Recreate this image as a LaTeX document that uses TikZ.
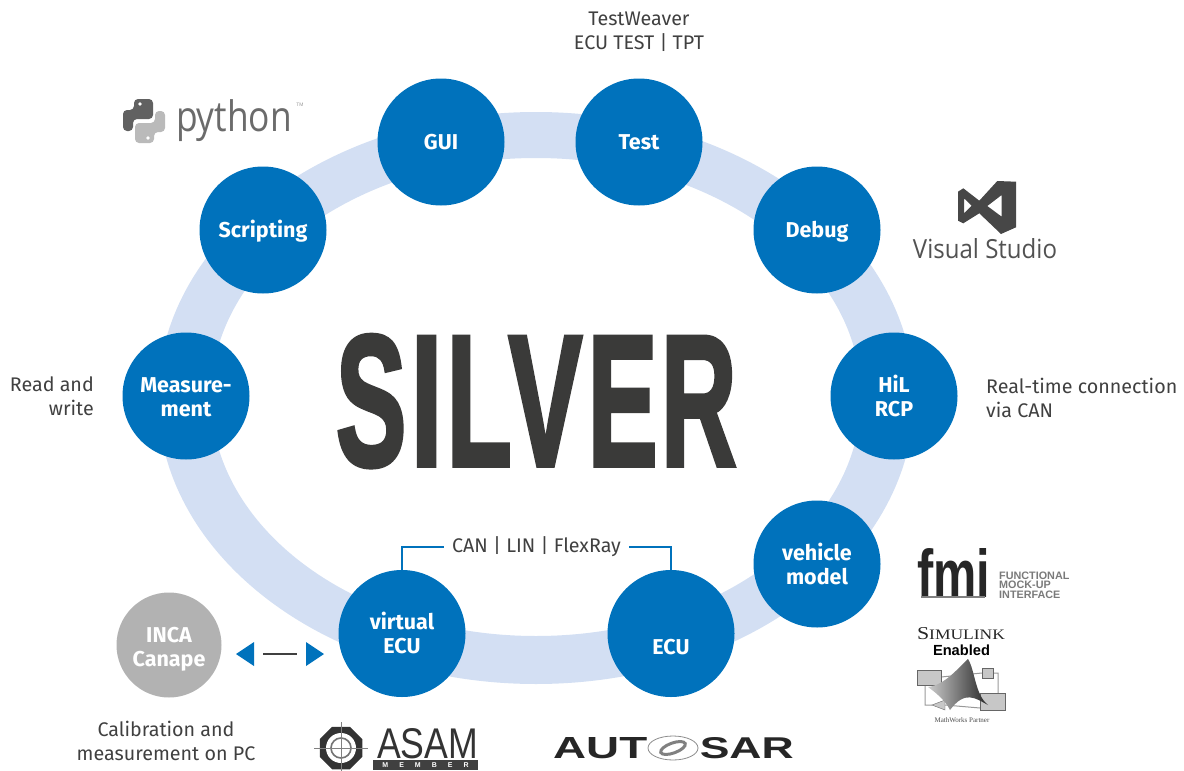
\documentclass[tikz,border=0pt]{standalone}
\usepackage{graphicx}
\usepackage{fontspec}
\usetikzlibrary{shapes.geometric}
\setmainfont{Fira Sans}
\newfontfamily\silverf[UprightFont=* Bold,FakeBold=2.4]{Liberation Sans}
\newfontfamily\arialf{Liberation Sans}
\newfontfamily\timesf{Liberation Serif}
\newfontfamily\openf{Open Sans}
\definecolor{hubblue}{HTML}{0072BC}
\definecolor{ringblue}{HTML}{D3DFF3}
\definecolor{incagray}{HTML}{B2B2B2}
\definecolor{txt}{HTML}{404040}
\definecolor{silvergray}{HTML}{3A3A39}
\newcommand{\fsz}[1]{\fontsize{#1}{#1}\selectfont}
\newcommand{\ltr}[3]{\scalebox{#1}[1.87]{#2}\hspace{#3pt}}
\tikzset{
  x=1pt,y=-1pt,
  hub/.style={circle,fill=hubblue,minimum size=127pt,inner sep=0pt,text=white,align=center,
    font=\fontsize{21.5}{24}\selectfont\bfseries},
  hubone/.style={hub,text height=15pt,text depth=0pt},
  hubtwo/.style={hub,text height=40pt,text depth=0pt},
  plain/.style={text=txt,align=center,inner sep=0pt,font=\fontsize{19.7}{24}\selectfont},
  bus/.style={draw=hubblue,line width=1.2pt},
  tri/.style={fill=hubblue},
}
\begin{document}
\begin{tikzpicture}
\useasboundingbox (0,0) rectangle (1184,771);
% ring
\fill[ringblue,even odd rule] (536,398) ellipse [x radius=378pt,y radius=286pt]
  (536,397) ellipse [x radius=325pt,y radius=239pt];
% title
\node[inner sep=0pt,anchor=base west,text=silvergray] (title) at (335.6,465.5)
  {\fontsize{100}{100}\silverf\ltr{1.06}{S}{4.1}\ltr{1.15}{I}{4}\ltr{1.07}{L}{-3.5}\ltr{1.11}{V}{5.2}\ltr{1.05}{E}{3.1}\ltr{1.05}{R}{0}};
% hubs
\node[hubone] (gui) at (441,142) {GUI};
\node[hubone] (test) at (639,142) {Test};
\node[hubone] (debug) at (817,230) {Debug};
\node[hubone] (script) at (263,230) {Scripting};
\node[hubtwo] (meas) at (186,396) {Measure-\\ment};
\node[hubtwo] (hil) at (894,396) {HiL\\RCP};
\node[hubtwo] (veh) at (817,564) {vehicle\\model};
\node[hubtwo] (vecu) at (402,633.5) {virtual\\ECU};
\node[hub,text height=41pt,text depth=0pt] (ecu) at (671,633.5) {ECU};
\node[circle,fill=incagray,minimum size=105pt,inner sep=0pt,text=white,align=center,
  text height=43pt,text depth=0pt,font=\fontsize{21.5}{24}\selectfont\bfseries] (inca) at (169,645) {INCA\\Canape};
% plain labels
\node[plain] (tw) at (639,32) {TestWeaver\\ECU TEST | TPT};
\node[plain,align=right,anchor=east] (rw) at (94,396.5) {Read and\\write};
\node[plain,align=left,anchor=west] (rt) at (986,397.5) {Real-time connection\\via CAN};
\node[plain] (cal) at (166,740.5) {Calibration and\\measurement on PC};
\node[plain] (bus) at (536.5,547) {CAN | LIN | FlexRay};
% bus connectors
\draw[bus] (vecu.north) |- ([xshift=-8pt]bus.west);
\draw[bus] (ecu.north) |- ([xshift=8pt]bus.east);
% INCA link
\coordinate (la) at (263,654);
\coordinate (lb) at (297,654);
\draw[txt,line width=1.5pt] (la) -- (lb);
\fill[tri] (236,654) -- (254,642) -- (254,666) -- cycle;
\fill[tri] (324,654) -- (306,642) -- (306,666) -- cycle;
% python logo
\fill[black!62,rounded corners=4pt] (134,110)--(134,99)--(153,99)--(153,119)--(133,119)--(133,131)--(123,131)--(123,110)--cycle;
\fill[black!27,rounded corners=4pt] (154,132)--(154,143)--(135,143)--(135,123)--(155,123)--(155,111)--(165,111)--(165,132)--cycle;
\fill[white] (140,104) circle (1.8) (148,138) circle (1.8);
\node[inner sep=0pt,text=black!58] (py) at (234,121) {\resizebox*{116pt}{42pt}{\openf python}};
\node[inner sep=0pt,text=black!40] (tm) at (300,105) {\arialf\fsz{5}TM};
% visual studio
\fill[black!72,even odd rule] (958,191.7)--(963.3,188.3)--(979.3,200.7)--(997.3,181)--(1016,181.7)--(1016,227.3)--(1001,234)--(979.3,213.3)--(963.3,223.3)--(958,220.7)--cycle
  (964,198.3)--(971.7,205.7)--(964,213.3)--cycle
  (1001.7,195)--(1001.7,216.7)--(987.3,206)--cycle;
\node[inner sep=0pt,anchor=base,text=black!68] (vs) at (985,258) {\resizebox{144pt}{20pt}{\openf Visual Studio}};
% fmi
\node[inner sep=0pt,text=black!85] (fmi) at (953.5,573) {\resizebox{73pt}{49pt}{\arialf\bfseries fmi}};
\fill[black!50] (921,595.5) rectangle (985,598);
\node[inner sep=0pt,anchor=west,align=left,text=black!52,font=\arialf\fontsize{10.8}{9.6}\selectfont\bfseries] (fmit) at (999,585) {FUNCTIONAL\\MOCK-UP\\INTERFACE};
% simulink
\node[inner sep=0pt,text=black!85] (sim) at (961,633.5) {\resizebox{88pt}{12pt}{\timesf S\fsz{8}IMULINK}};
\node[inner sep=0pt,text=black] (ena) at (961.5,650.5) {\resizebox{57pt}{!}{\arialf\bfseries Enabled}};
\draw[black!40,line width=1pt] (941,677)--(982,673) (993,673)--(998,673)--(998,693) (980,708)--(945,705) (932,705)--(925,705)--(925,685);
\fill[black!22,draw=black!60] (917,670) rectangle (941,685);
\fill[black!22,draw=black!60] (982,668) rectangle (993,678);
\fill[black!22,draw=black!60] (980,693) rectangle (1005,710);
\fill[black!22,draw=black!60] (932,705)--(945,700)--(945,710)--cycle;
\shade[left color=black!20,right color=black!85] (928,687) .. controls (945,685) and (958,668) .. (968,659) .. controls (975,670) and (975,695) .. (988,705) .. controls (975,698) and (965,690) .. (950,710) .. controls (945,700) and (935,692) .. (928,687) -- cycle;
\node[inner sep=0pt,text=black!70] (mw) at (962,720) {\timesf\fsz{7}MathWorks Partner};
% asam
\node[regular polygon,regular polygon sides=8,draw=none,fill=black!80,minimum size=46pt,inner sep=0pt] (asamo) at (341,748) {};
\fill[white] (asamo.center) circle (15);
\draw[black!55,line width=1.6pt] (asamo.center) circle (10);
\draw[black!50,line width=.8pt] (314,748)--(368,748) (341,722)--(341,771);
\node[inner sep=0pt,anchor=base west,text=black!80] (asam) at (377,758) {\resizebox{101pt}{30pt}{\arialf ASAM}};
\fill[black!75] (373,760) rectangle (478,770);
\node[inner sep=0pt,text=white] (mem) at (425.5,765) {\arialf\fontsize{7}{7}\selectfont\bfseries M\hspace{11pt}E\hspace{11pt}M\hspace{11pt}B\hspace{11pt}E\hspace{11pt}R};
% autosar
\node[inner sep=0pt,anchor=west,text=black!85] (aut) at (553,748.5) {\resizebox{94pt}{21pt}{\arialf\bfseries AUT}};
\node[inner sep=0pt,anchor=east,text=black!85] (sar) at (794,748.5) {\resizebox{94pt}{21pt}{\arialf\bfseries SAR}};
\draw[black!45,line width=.8pt] (673,748) ellipse [x radius=25pt,y radius=12pt];
\draw[black!50,line width=3pt,rotate around={20:(673,748)}] (673,748) ellipse [x radius=13pt,y radius=5pt];
\end{tikzpicture}
\end{document}
